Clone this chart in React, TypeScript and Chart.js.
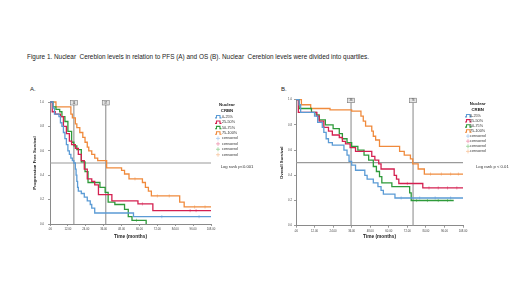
import React, { useEffect, useRef } from 'react';
import { Chart, registerables } from 'chart.js';

Chart.register(...registerables);

const FONT = '"Liberation Sans", Arial, Helvetica, sans-serif';

// ---------- data ----------
const groupLabels = ['0-25%', '25-50%', '50-75%', '75-100%'];
const groupColors = ['#5b9bd5', '#d42050', '#2e9a3a', '#f08a3c'];
const censorColors = ['#a9c9ee', '#ee95b0', '#95d095', '#f8c59e'];

const xTickValues = [0, 12, 24, 36, 48, 60, 72, 84, 96, 108];
const yTickValues = [0, 0.2, 0.4, 0.6, 0.8, 1.0];

// Progression free survival (A)
const pfsBlueT = [0, 2, 3, 6, 7, 8, 9, 10, 11, 12, 13, 14, 15, 16, 17, 17.5, 18, 18.5, 19, 21, 23, 25, 27, 28, 30, 56, 108];
const pfsBlueS = [1, 0.95, 0.9, 0.88, 0.83, 0.8, 0.75, 0.7, 0.65, 0.6, 0.57, 0.54, 0.52, 0.5, 0.45, 0.4, 0.35, 0.3, 0.27, 0.25, 0.22, 0.19, 0.16, 0.13, 0.09, 0.06, 0.06];
const pfsRedT = [0, 1.5, 3.5, 7, 9, 11, 13, 14.5, 17, 19, 21, 23, 25, 28, 30, 32.5, 41.5, 59, 69, 108];
const pfsRedS = [1, 0.92, 0.9, 0.88, 0.8, 0.74, 0.68, 0.65, 0.62, 0.57, 0.52, 0.45, 0.37, 0.35, 0.32, 0.24, 0.19, 0.165, 0.11, 0.11];
const pfsGreenT = [0, 2, 4, 6.5, 8, 10, 12, 14.5, 16, 18, 21, 23.5, 25.5, 33.5, 37, 39, 43.5, 50, 52.5, 55, 64.5];
const pfsGreenS = [1, 0.96, 0.94, 0.92, 0.88, 0.84, 0.76, 0.67, 0.64, 0.61, 0.51, 0.43, 0.34, 0.3, 0.26, 0.18, 0.16, 0.12, 0.06, 0.03, 0];
const pfsOrangeT = [0, 4, 14, 15, 17, 18, 20, 22, 23.5, 25, 26, 28, 30, 32, 38, 48, 50, 53, 62, 64, 66, 68, 87, 90, 108];
const pfsOrangeS = [1, 0.96, 0.9, 0.87, 0.82, 0.79, 0.75, 0.71, 0.67, 0.63, 0.6, 0.57, 0.54, 0.52, 0.46, 0.44, 0.41, 0.37, 0.34, 0.3, 0.27, 0.23, 0.18, 0.14, 0.14];
const pfsCensored = [[75, 100], [62, 94, 98], [58], [57, 72, 80, 97, 104]];
const pfsRefTimes = [16, 37.4];
const pfsRefLabels = ['16', '37'];

// Overall survival (B)
const osBlueT = [0, 2, 3, 12, 14, 17, 18, 19.5, 21, 23.5, 31, 33, 34.3, 36, 38.5, 44.5, 46, 50, 53, 55, 56.5, 64, 108];
const osBlueS = [1, 0.96, 0.9, 0.87, 0.82, 0.78, 0.74, 0.69, 0.66, 0.64, 0.6, 0.56, 0.51, 0.48, 0.44, 0.4, 0.37, 0.34, 0.31, 0.28, 0.25, 0.22, 0.22];
const osRedT = [0, 1.5, 13.5, 15, 18, 21, 23.5, 28, 30, 32, 35, 38.5, 49, 51, 53.5, 55, 63.5, 65, 66.5, 82, 108];
const osRedS = [1, 0.9, 0.87, 0.83, 0.78, 0.75, 0.72, 0.7, 0.67, 0.65, 0.62, 0.59, 0.55, 0.52, 0.49, 0.45, 0.4, 0.37, 0.335, 0.3, 0.3];
const osGreenT = [0, 2, 10, 13, 15, 19, 24, 28, 30, 33, 36, 40, 44, 47, 50, 52, 54, 55.5, 62, 73.5, 74.5, 102];
const osGreenS = [1, 0.93, 0.9, 0.88, 0.84, 0.8, 0.77, 0.73, 0.69, 0.66, 0.63, 0.6, 0.56, 0.52, 0.47, 0.43, 0.39, 0.34, 0.31, 0.26, 0.2, 0.2];
const osOrangeT = [0, 3.5, 9.5, 22, 36, 42, 43.5, 45, 49, 50, 51.5, 54, 67, 70, 74, 75.5, 79, 83, 108];
const osOrangeS = [1, 0.96, 0.93, 0.92, 0.91, 0.87, 0.83, 0.79, 0.75, 0.71, 0.68, 0.63, 0.59, 0.56, 0.53, 0.49, 0.45, 0.41, 0.41];
const osCensored = [[68, 80, 90, 100], [72, 86, 92, 98, 104], [78, 85, 92, 98], [87, 94, 100, 105]];
const osRefTimes = [35.6, 75.7];
const osRefLabels = ['36', '76'];

// ---------- helpers ----------
function survivalAt(T: number[], S: number[], t: number) {
  let v = S[0];
  for (let i = 0; i < T.length; i++) if (T[i] <= t) v = S[i];
  return v;
}

type Panel = {
  curves: [number[], number[]][];
  censored: number[][];
  refTimes: number[];
  refLabels: string[];
  yTitle: string;
  logRank: string;
  pad: { left: number; right: number; top: number; bottom: number };
  xAxisH: number;
  yTitlePad: number;
  yTickPad: number;
  legend: { iconX: number; textX: number; titleX: number; titleY: number; itemY: number; gap: number };
  logRankPos: { x: number; y: number };
};

const refPlugin = {
  id: 'kmExtras',
  beforeDatasetsDraw(chart: any) {
    const p: Panel = chart.options.plugins.kmExtras.panel;
    const { ctx, chartArea } = chart;
    const xs = chart.scales.x;
    const ys = chart.scales.y;
    ctx.save();
    ctx.strokeStyle = '#9a9a9a';
    ctx.lineWidth = 1.2;
    const y05 = ys.getPixelForValue(0.5);
    ctx.beginPath();
    ctx.moveTo(chartArea.left, y05);
    ctx.lineTo(chartArea.right, y05);
    ctx.stroke();
    p.refTimes.forEach((t, i) => {
      const x = xs.getPixelForValue(t);
      ctx.strokeStyle = '#9a9a9a';
      ctx.lineWidth = 1.2;
      ctx.beginPath();
      ctx.moveTo(x, chartArea.bottom);
      ctx.lineTo(x, chartArea.top + 2);
      ctx.stroke();
      const bw = 7, bh = 4.5;
      ctx.fillStyle = '#e4e4e4';
      ctx.fillRect(x - bw / 2, chartArea.top - 1.5, bw, bh);
      ctx.strokeStyle = '#777';
      ctx.lineWidth = 0.6;
      ctx.strokeRect(x - bw / 2, chartArea.top - 1.5, bw, bh);
      ctx.fillStyle = '#333';
      ctx.font = `2.6px ${FONT}`;
      ctx.textAlign = 'center';
      ctx.textBaseline = 'middle';
      ctx.fillText(p.refLabels[i], x, chartArea.top + 0.8);
    });
    ctx.restore();
  },
  afterDraw(chart: any) {
    const p: Panel = chart.options.plugins.kmExtras.panel;
    const { ctx } = chart;
    const L = p.legend;
    ctx.save();
    ctx.fillStyle = '#222';
    ctx.textAlign = 'center';
    ctx.textBaseline = 'middle';
    ctx.font = `bold 4.3px ${FONT}`;
    ctx.fillText('Nuclear', L.titleX, L.titleY);
    ctx.fillText('CRBN', L.titleX, L.titleY + 5.5);
    ctx.textAlign = 'left';
    ctx.font = `3.8px ${FONT}`;
    groupLabels.forEach((lab, i) => {
      const y = L.itemY + i * L.gap;
      const x = L.iconX;
      ctx.strokeStyle = groupColors[i];
      ctx.lineWidth = 1.1;
      ctx.beginPath();
      ctx.moveTo(x, y + 1.2);
      ctx.lineTo(x + 1.5, y + 1.2);
      ctx.lineTo(x + 1.5, y - 1.2);
      ctx.lineTo(x + 5, y - 1.2);
      ctx.lineTo(x + 5, y + 1.2);
      ctx.lineTo(x + 6.5, y + 1.2);
      ctx.stroke();
      ctx.fillStyle = '#333';
      ctx.fillText(lab, L.textX, y);
    });
    groupLabels.forEach((_, i) => {
      const y = L.itemY + (i + 4) * L.gap;
      const cx = L.iconX + 3;
      ctx.strokeStyle = censorColors[i];
      ctx.lineWidth = 0.8;
      ctx.beginPath();
      ctx.moveTo(cx - 2, y);
      ctx.lineTo(cx + 2, y);
      ctx.moveTo(cx, y - 2);
      ctx.lineTo(cx, y + 2);
      ctx.stroke();
      ctx.fillStyle = '#333';
      ctx.fillText('censored', L.textX, y);
    });
    ctx.font = `4.2px ${FONT}`;
    ctx.fillStyle = '#333';
    ctx.fillText(p.logRank, p.logRankPos.x, p.logRankPos.y);
    ctx.restore();
  },
};

function KMChart({ panel, style, width, height }: { panel: Panel; style: any; width: number; height: number }) {
  const ref = useRef<HTMLCanvasElement>(null);
  useEffect(() => {
    const datasets: any[] = [];
    panel.curves.forEach(([T, S], i) => {
      datasets.push({
        type: 'line',
        label: groupLabels[i],
        data: T.map((t, k) => ({ x: t, y: S[k] })),
        stepped: 'before',
        borderColor: groupColors[i],
        borderWidth: 1.3,
        pointRadius: 0,
        fill: false,
        clip: 4,
      });
    });
    panel.curves.forEach(([T, S], i) => {
      datasets.push({
        type: 'scatter',
        label: 'censored',
        data: panel.censored[i].map((t) => ({ x: t, y: survivalAt(T, S, t) })),
        pointStyle: 'line',
        rotation: 90,
        pointRadius: 1.6,
        borderColor: censorColors[i],
        backgroundColor: censorColors[i],
        borderWidth: 0.9,
        showLine: false,
        clip: 4,
      });
    });
    const chart = new Chart(ref.current as HTMLCanvasElement, {
      type: 'line',
      data: { datasets },
      plugins: [refPlugin],
      options: {
        animation: false,
        responsive: false,
        devicePixelRatio: 1,
        layout: { padding: panel.pad },
        plugins: {
          legend: { display: false },
          tooltip: { enabled: false },
          kmExtras: { panel },
        } as any,
        scales: {
          x: {
            type: 'linear',
            min: 0,
            max: 108,
            afterBuildTicks: (s: any) => {
              s.ticks = xTickValues.map((v) => ({ value: v }));
            },
            afterFit: (s: any) => {
              s.height = panel.xAxisH;
            },
            ticks: {
              callback: (v: any) => (v === 0 ? '.00' : Number(v).toFixed(2)),
              font: { size: 2.8, family: FONT },
              color: '#444',
              padding: 1.8,
              maxRotation: 0,
              autoSkip: false,
            },
            grid: { display: true, drawOnChartArea: false, drawTicks: true, tickLength: 2, color: '#999' },
            border: { display: true, color: '#8a8a8a', width: 1 },
            title: {
              display: true,
              text: 'Time (months)',
              font: { size: 4.8, weight: 'bold', family: FONT },
              color: '#222',
              padding: { top: 0, bottom: 10.1 },
            },
          },
          y: {
            type: 'linear',
            min: 0,
            max: 1,
            afterBuildTicks: (s: any) => {
              s.ticks = yTickValues.map((v) => ({ value: v }));
            },
            afterFit: (s: any) => {
              s.width = 30;
            },
            ticks: {
              callback: (v: any) => Number(v).toFixed(1),
              font: { size: 2.8, family: FONT },
              color: '#444',
              padding: panel.yTickPad,
            },
            grid: { display: true, drawOnChartArea: false, drawTicks: true, tickLength: 2, color: '#999' },
            border: { display: true, color: '#8a8a8a', width: 1 },
            title: {
              display: true,
              text: panel.yTitle,
              font: { size: 4.3, weight: 'bold', family: FONT },
              color: '#222',
              padding: { top: panel.yTitlePad, bottom: 0 },
            },
          },
        },
      } as any,
    });
    return () => chart.destroy();
  }, [panel]);
  return <canvas ref={ref} width={width} height={height} style={{ position: 'absolute', ...style }} />;
}

const panelA: Panel = {
  curves: [
    [pfsBlueT, pfsBlueS],
    [pfsRedT, pfsRedS],
    [pfsGreenT, pfsGreenS],
    [pfsOrangeT, pfsOrangeS],
  ],
  censored: pfsCensored,
  refTimes: pfsRefTimes,
  refLabels: pfsRefLabels,
  yTitle: 'Progression Free Survival',
  logRank: 'Log rank p<0.001',
  pad: { left: 0, right: 59, top: 12, bottom: 0 },
  xAxisH: 26,
  yTitlePad: 12.4,
  yTickPad: 4,
  legend: { iconX: 195, textX: 202, titleX: 207, titleY: 15, itemY: 26.7, gap: 5.43 },
  logRankPos: { x: 200.7, y: 76.7 },
};

const panelB: Panel = {
  curves: [
    [osBlueT, osBlueS],
    [osRedT, osRedS],
    [osGreenT, osGreenS],
    [osOrangeT, osOrangeS],
  ],
  censored: osCensored,
  refTimes: osRefTimes,
  refLabels: osRefLabels,
  yTitle: 'Overall Survival',
  logRank: 'Log rank p < 0.01',
  pad: { left: 0, right: 57, top: 9.7, bottom: 0 },
  xAxisH: 24.3,
  yTitlePad: 13.4,
  yTickPad: 2,
  legend: { iconX: 199, textX: 204, titleX: 211.7, titleY: 14, itemY: 25.7, gap: 5.1 },
  logRankPos: { x: 210, y: 76.7 },
};

export default function App() {
  const textStyle: any = { position: 'absolute', fontFamily: FONT, color: '#222', whiteSpace: 'nowrap', lineHeight: 1 };
  return (
    <div style={{ position: 'absolute', left: 0, top: 0, width: 520, height: 292, background: '#fff', overflow: 'hidden' }}>
      <div style={{ ...textStyle, left: 27, top: 54, fontSize: 6.4 }}>
        Figure 1. Nuclear&nbsp; Cereblon levels in relation to PFS (A) and OS (B). Nuclear&nbsp; Cereblon levels were divided into quartiles.
      </div>
      <div style={{ ...textStyle, left: 30, top: 85.5, fontSize: 6 }}>A.</div>
      <div style={{ ...textStyle, left: 281, top: 86, fontSize: 6 }}>B.</div>
      <KMChart panel={panelA} width={250} height={160} style={{ left: 20, top: 90 }} />
      <KMChart panel={panelB} width={254} height={160} style={{ left: 266, top: 90 }} />
    </div>
  );
}
